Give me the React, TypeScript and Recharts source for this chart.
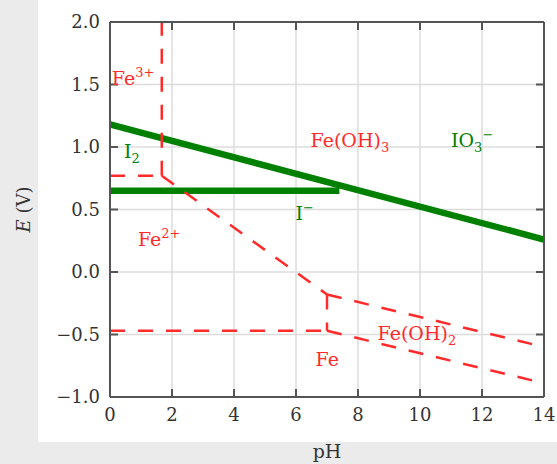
import React from "react";
import {
  ComposedChart,
  Line,
  XAxis,
  YAxis,
  ReferenceLine,
  ReferenceDot,
  Label,
} from "recharts";

const phTicks = [0, 2, 4, 6, 8, 10, 12, 14];
const eTicks = [-1.0, -0.5, 0.0, 0.5, 1.0, 1.5, 2.0];

// iodine couples (solid green)
const io3I2 = [{ pH: 0, E: 1.18 }, { pH: 14, E: 0.26 }];
const i2I = [{ pH: 0, E: 0.65 }, { pH: 7.4, E: 0.65 }];

// iron couples (dashed red)
const fe3Fe2 = [{ pH: 0, E: 0.77 }, { pH: 1.67, E: 0.77 }];
const fe3FeOH3 = [{ pH: 1.67, E: 0.77 }, { pH: 1.67, E: 2.0 }];
const feOH3Fe2 = [{ pH: 1.67, E: 0.77 }, { pH: 7.0, E: -0.18 }];
const fe2FeOH2 = [{ pH: 7.0, E: -0.18 }, { pH: 7.0, E: -0.47 }];
const fe2Fe = [{ pH: 0, E: -0.47 }, { pH: 7.0, E: -0.47 }];
const feOH3FeOH2 = [{ pH: 7.0, E: -0.18 }, { pH: 14, E: -0.6 }];
const feOH2Fe = [{ pH: 7.0, E: -0.47 }, { pH: 14, E: -0.89 }];

type Part = { t: string; pos?: "sub" | "sup" };
type RegionLabel = { pH: number; E: number; parts: Part[]; iron: boolean };

const regionLabels: RegionLabel[] = [
  { pH: 0.06, E: 1.5, parts: [{ t: "Fe" }, { t: "3+", pos: "sup" }], iron: true },
  { pH: 0.45, E: 0.91, parts: [{ t: "I" }, { t: "2", pos: "sub" }], iron: false },
  { pH: 6.47, E: 1.0, parts: [{ t: "Fe(OH)" }, { t: "3", pos: "sub" }], iron: true },
  { pH: 11.0, E: 1.0, parts: [{ t: "IO" }, { t: "3", pos: "sub" }, { t: "−", pos: "sup" }], iron: false },
  { pH: 5.98, E: 0.415, parts: [{ t: "I" }, { t: "−", pos: "sup" }], iron: false },
  { pH: 0.9, E: 0.205, parts: [{ t: "Fe" }, { t: "2+", pos: "sup" }], iron: true },
  { pH: 8.63, E: -0.54, parts: [{ t: "Fe(OH)" }, { t: "2", pos: "sub" }], iron: true },
  { pH: 6.63, E: -0.75, parts: [{ t: "Fe" }], iron: true },
];

const RED = "#ff2b2b";
const GREEN = "#008000";
const FRAME = "#555";
const GRID = "#dcdcdc";
const FONT = "DejaVu Serif";
const W = 557;
const H = 464;
const MARGIN = { top: 21, right: 12, bottom: 0, left: 0 };

// plot box is 434 x 375 px; inward tick marks are 8 px long
const TICK_PH = (8 * 14) / 434;
const TICK_E = (8 * 3) / 375;

function RegionText({ cx, cy, parts, fill }: { cx: number; cy: number; parts: Part[]; fill: string }) {
  let shift = 0;
  return (
    <text x={cx} y={cy} fill={fill} fontFamily={FONT} fontSize={19}>
      {parts.map((p, i) => {
        const target = p.pos === "sub" ? 5 : p.pos === "sup" ? -8 : 0;
        const dy = target - shift;
        shift = target;
        return (
          <tspan key={i} dy={dy} fontSize={p.pos ? 13 : 19}>
            {p.t}
          </tspan>
        );
      })}
    </text>
  );
}

const fmt = (v: number) => (v < 0 ? "−" : "") + Math.abs(v).toFixed(1);

export default function App() {
  const axisLine = { stroke: FRAME, strokeWidth: 2 };
  const tickStyle = { fill: "#333", fontSize: 18, fontFamily: FONT };
  const dashed = { stroke: RED, strokeWidth: 2.5, strokeDasharray: "15 13" };
  const innerPh = phTicks.slice(1, -1);
  const innerE = eTicks.slice(1, -1);

  return (
    <div style={{ position: "absolute", left: 0, top: 0, width: W, height: H, background: "#ebebeb" }}>
      <div style={{ position: "absolute", left: 38, top: 0, width: 519, height: 442, background: "#fff" }} />
      <div style={{ position: "absolute", left: 0, top: 0 }}>
        <ComposedChart width={W} height={H} margin={MARGIN}>
          <XAxis
            dataKey="pH"
            type="number"
            domain={[0, 14]}
            ticks={phTicks}
            height={67}
            axisLine={axisLine}
            tickLine={false}
            tickSize={-8}
            tickMargin={19}
            tick={tickStyle}
            allowDataOverflow
          >
            <Label
              content={({ viewBox }: any) => (
                <text
                  x={viewBox.x + viewBox.width / 2}
                  y={viewBox.y + 61}
                  textAnchor="middle"
                  fill="#333"
                  fontFamily={FONT}
                  fontSize={19}
                >
                  pH
                </text>
              )}
            />
          </XAxis>
          <XAxis
            xAxisId="top"
            orientation="top"
            dataKey="pH"
            type="number"
            domain={[0, 14]}
            ticks={phTicks}
            height={1}
            axisLine={axisLine}
            tickLine={false}
            tick={false}
            allowDataOverflow
          />
          <YAxis
            type="number"
            domain={[-1, 2]}
            ticks={eTicks}
            width={110}
            axisLine={axisLine}
            tickLine={false}
            tickSize={-8}
            tickMargin={18}
            tick={tickStyle}
            tickFormatter={fmt}
            allowDataOverflow
          >
            <Label
              content={({ viewBox }: any) => (
                <text
                  transform={`translate(23, ${viewBox.y + viewBox.height / 2}) rotate(-90)`}
                  textAnchor="middle"
                  dominantBaseline="central"
                  fill="#333"
                  fontFamily={FONT}
                  fontSize={18}
                >
                  <tspan fontStyle="italic">E</tspan> (V)
                </text>
              )}
            />
          </YAxis>
          <YAxis
            yAxisId="right"
            orientation="right"
            type="number"
            domain={[-1, 2]}
            ticks={eTicks}
            width={1}
            axisLine={axisLine}
            tickLine={false}
            tick={false}
            allowDataOverflow
          />

          {/* grid (interior only, so the frame stays dark) */}
          {innerPh.map((v) => (
            <ReferenceLine key={`gx${v}`} x={v} stroke={GRID} strokeWidth={1.5} />
          ))}
          {innerE.map((v) => (
            <ReferenceLine key={`gy${v}`} y={v} stroke={GRID} strokeWidth={1.5} />
          ))}

          {/* inward ticks on all four sides */}
          {innerPh.map((v) => (
            <ReferenceLine key={`tb${v}`} segment={[{ x: v, y: -1 }, { x: v, y: -1 + TICK_E }]} stroke={FRAME} strokeWidth={2} ifOverflow="visible" />
          ))}
          {innerPh.map((v) => (
            <ReferenceLine key={`tt${v}`} segment={[{ x: v, y: 2 - TICK_E }, { x: v, y: 2 }]} stroke={FRAME} strokeWidth={2} ifOverflow="visible" />
          ))}
          {eTicks.map((v) => (
            <ReferenceLine key={`tl${v}`} segment={[{ x: 0, y: v }, { x: TICK_PH, y: v }]} stroke={FRAME} strokeWidth={2} ifOverflow="visible" />
          ))}
          {eTicks.map((v) => (
            <ReferenceLine key={`tr${v}`} segment={[{ x: 14 - TICK_PH, y: v }, { x: 14, y: v }]} stroke={FRAME} strokeWidth={2} ifOverflow="visible" />
          ))}

          {/* IO3-/I2 line is bound to the top/right axes (same domains) so they get drawn */}
          <Line data={io3I2} xAxisId="top" yAxisId="right" dataKey="E" type="linear" stroke={GREEN} strokeWidth={6.5} dot={false} isAnimationActive={false} />
          <Line data={i2I} dataKey="E" type="linear" stroke={GREEN} strokeWidth={6.5} dot={false} isAnimationActive={false} />

          <Line data={fe3Fe2} dataKey="E" type="linear" {...dashed} dot={false} isAnimationActive={false} />
          <Line data={fe3FeOH3} dataKey="E" type="linear" {...dashed} dot={false} isAnimationActive={false} />
          <Line data={feOH3Fe2} dataKey="E" type="linear" {...dashed} dot={false} isAnimationActive={false} />
          <Line data={fe2FeOH2} dataKey="E" type="linear" {...dashed} dot={false} isAnimationActive={false} />
          <Line data={fe2Fe} dataKey="E" type="linear" {...dashed} dot={false} isAnimationActive={false} />
          <Line data={feOH3FeOH2} dataKey="E" type="linear" {...dashed} dot={false} isAnimationActive={false} />
          <Line data={feOH2Fe} dataKey="E" type="linear" {...dashed} dot={false} isAnimationActive={false} />

          {regionLabels.map((l, i) => (
            <ReferenceDot
              key={i}
              x={l.pH}
              y={l.E}
              r={0}
              shape={(p: any) => (
                <RegionText cx={p.cx} cy={p.cy} parts={l.parts} fill={l.iron ? RED : GREEN} />
              )}
            />
          ))}
        </ComposedChart>
      </div>
    </div>
  );
}
